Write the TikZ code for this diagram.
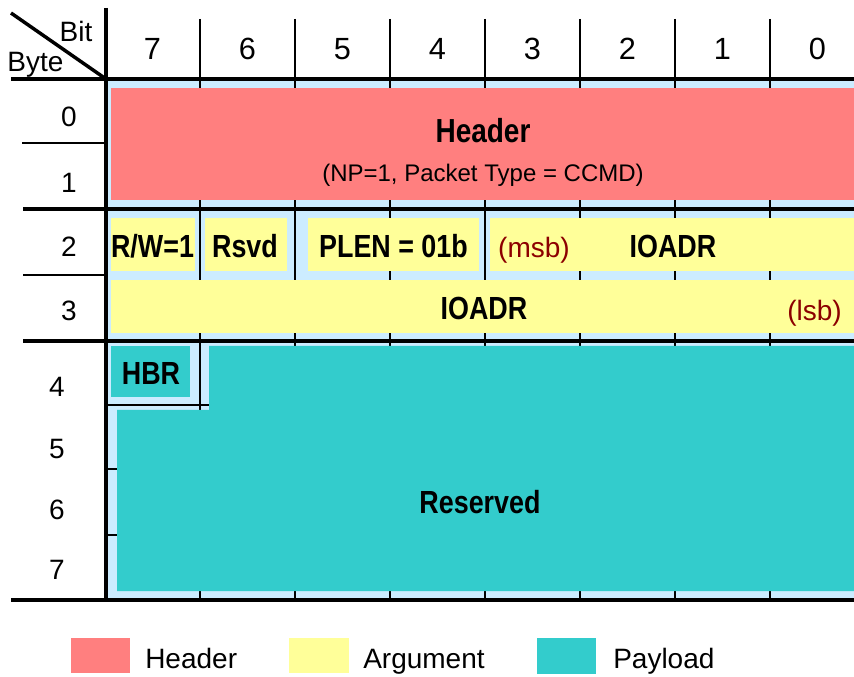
\documentclass[tikz,border=0pt]{standalone}
\usepackage{fontspec}
\setmainfont{Liberation Sans}
\newfontfamily\bnar{Liberation Sans}[FakeStretch=0.84]
\definecolor{hdr}{RGB}{255,127,127}
\definecolor{arg}{RGB}{255,255,153}
\definecolor{pay}{RGB}{51,204,204}
\definecolor{bgb}{RGB}{204,236,255}
\definecolor{dred}{RGB}{140,0,0}
\begin{document}
\begin{tikzpicture}[x=0.75pt,y=-0.75pt,
  heavy/.style={line width=3.4pt},
  fine/.style={line width=1.1pt},
  lbl/.style={inner sep=0pt, anchor=base, font=\fontsize{21}{25}\selectfont},
  hdig/.style={inner sep=0pt, anchor=base, font=\fontsize{23}{27}\selectfont},
  bl/.style={inner sep=0pt, anchor=base, font=\bnar\bfseries\fontsize{24}{28}\selectfont},
  note/.style={inner sep=0pt, anchor=base, text=dred, font=\fontsize{21}{25}\selectfont},
  leg/.style={inner sep=0pt, anchor=base west, font=\fontsize{21}{25}\selectfont}]
\useasboundingbox (0,0) rectangle (854,677);
% background of the grid
\fill[bgb] (106,79) rectangle (854,600);
% column lines
\foreach \x in {200,295,...,770} \draw[fine] (\x,19) -- (\x,600);
% field boxes
\fill[hdr] (111,88) rectangle (854,200);
\fill[arg] (111,218) rectangle (195,271);
\fill[arg] (205,218) rectangle (287,271);
\fill[arg] (308,218) rectangle (479,271);
\fill[arg] (490,218) rectangle (854,271);
\fill[arg] (111,280) rectangle (854,333);
\draw[fine] (106,405) -- (209,405);
\draw[fine] (106,469) -- (117,469);
\draw[fine] (106,535) -- (117,535);
\fill[pay] (111,346) rectangle (190,397);
\fill[pay] (209,346) -- (854,346) -- (854,591) -- (117,591) -- (117,410) -- (209,410) -- cycle;
% frame lines
\draw[heavy] (11,79) -- (854,79);
\draw[heavy] (23,209) -- (854,209);
\draw[heavy] (23,341) -- (854,341);
\draw[heavy] (11,600) -- (854,600);
\draw[heavy] (106,8) -- (106,600);
\draw[fine] (22,143) -- (106,143);
\draw[fine] (23,275) -- (106,275);
\draw[line width=2.6pt] (11,13) -- (106,79);
% corner labels
\node[lbl] (bit) at (76,42) {Bit};
\node[lbl] (byte) at (35.5,72) {Byte};
% bit numbers
\node[hdig] (b7) at (152.5,60) {7};
\node[hdig] (b6) at (247.5,60) {6};
\node[hdig] (b5) at (342.5,60) {5};
\node[hdig] (b4) at (437.5,60) {4};
\node[hdig] (b3) at (532.5,60) {3};
\node[hdig] (b2) at (627.5,60) {2};
\node[hdig] (b1) at (722.5,60) {1};
\node[hdig] (b0) at (817.5,60) {0};
% byte numbers
\node[lbl] (y0) at (69,127) {0};
\node[lbl] (y1) at (69,193) {1};
\node[lbl] (y2) at (69,257) {2};
\node[lbl] (y3) at (69,321) {3};
\node[lbl] (y4) at (57,397) {4};
\node[lbl] (y5) at (57,459) {5};
\node[lbl] (y6) at (57,519) {6};
\node[lbl] (y7) at (57,579) {7};
% field texts
\node[bl, font=\bnar\bfseries\fontsize{25}{29}\selectfont] (hdrt) at (483,143) {Header};
\node[inner sep=0pt, anchor=base, font=\fontsize{18}{22}\selectfont] (hdrs) at (483,182) {(NP=1, Packet Type = CCMD)};
\node[bl] (rw) at (152.5,258) {R/W=1};
\node[bl] (rsvd) at (245,258) {Rsvd};
\node[bl] (plen) at (393.5,258) {PLEN = 01b};
\node[note] (msb) at (534,258) {(msb)};
\node[bl] (ioa) at (673,258) {IOADR};
\node[bl] (iob) at (484,320) {IOADR};
\node[note] (lsb) at (814.5,321) {(lsb)};
\node[bl] (hbr) at (151,385) {HBR};
\node[bl] (res) at (480,513) {Reserved};
% legend
\fill[hdr] (71,638) rectangle (130,673);
\fill[arg] (289,638) rectangle (349,673);
\fill[pay] (537,638) rectangle (596,674);
\node[leg] (lh) at (145,668) {Header};
\node[leg] (la) at (363,668) {Argument};
\node[leg] (lp) at (613,668) {Payload};
\end{tikzpicture}
\end{document}
